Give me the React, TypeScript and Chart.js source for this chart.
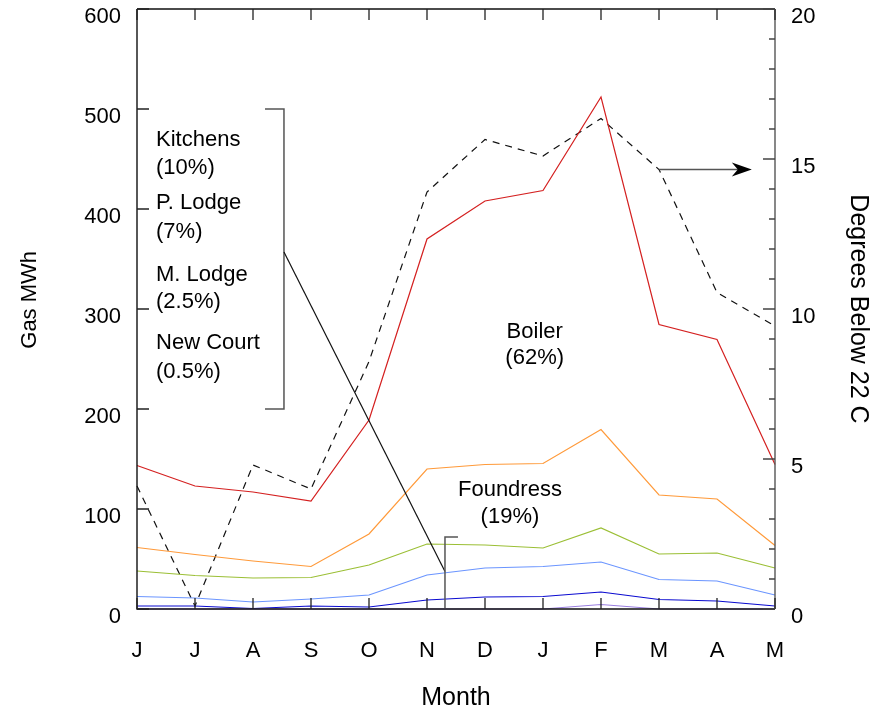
import React, { useEffect, useRef } from 'react';
import { Chart, registerables } from 'chart.js';

Chart.register(...registerables);

// ---- data ----
const months = ['J', 'J', 'A', 'S', 'O', 'N', 'D', 'J', 'F', 'M', 'A', 'M'];
const boilerTop = [143.5, 123, 117, 108, 189, 370, 408, 418.5, 512, 284.5, 269.5, 144.5];
const foundressTop = [61.5, 54.5, 48, 42.5, 75, 140, 144.5, 145.5, 179.5, 114, 110, 63.5];
const kitchensTop = [38, 33.5, 31, 31.5, 44, 65, 64, 61, 81, 55, 56, 41];
const pLodgeTop = [12.5, 11, 7, 10, 14, 34, 41, 42.5, 47, 29.5, 28, 14];
const mLodgeTop = [3, 3, 0.5, 3, 2, 9, 12, 12.5, 17, 9.5, 8, 3];
const newCourtTop = [0, 0, 0, 0, 0, 0, 0, 0, 4.5, 0, 0, 0];
const degreesBelow22 = [4.1, 0.1, 4.8, 4.0, 8.25, 13.9, 15.65, 15.1, 16.35, 14.65, 10.55, 9.43];

const leftTickValues = [0, 100, 200, 300, 400, 500, 600];
const rightTickValues = [0, 5, 10, 15, 20];

const FONT = '"Liberation Sans", Arial, Helvetica, sans-serif';

// annotation texts (x in month-index units, y in MWh)
const sideLabels = [
  { text: 'Kitchens', y: 469 },
  { text: '(10%)', y: 441 },
  { text: 'P. Lodge', y: 406 },
  { text: '(7%)', y: 377 },
  { text: 'M. Lodge', y: 334 },
  { text: '(2.5%)', y: 307 },
  { text: 'New Court', y: 266 },
  { text: '(0.5%)', y: 237 },
];
const centerLabels = [
  { text: 'Boiler', x: 6.857, y: 277.5 },
  { text: '(62%)', x: 6.857, y: 250.7 },
  { text: 'Foundress', x: 6.43, y: 119 },
  { text: '(19%)', x: 6.43, y: 92.3 },
];

const decor = {
  id: 'decor',
  afterDatasetsDraw(chart: any) {
    const { ctx, chartArea: a, scales } = chart;
    const xs = scales.x, ys = scales.y, yr = scales.y2;
    const px = (i: number) => xs.getPixelForValue(i);
    const py = (v: number) => ys.getPixelForValue(v);
    const pr = (v: number) => yr.getPixelForValue(v);
    ctx.save();
    // frame
    ctx.lineCap = 'butt';
    ctx.strokeStyle = '#111';
    ctx.lineWidth = 1.4;
    ctx.beginPath();
    ctx.moveTo(a.left, a.top);
    ctx.lineTo(a.right, a.top);
    ctx.moveTo(a.left, a.top);
    ctx.lineTo(a.left, a.bottom);
    ctx.lineTo(a.right, a.bottom);
    ctx.stroke();
    ctx.strokeStyle = '#555';
    ctx.beginPath();
    ctx.moveTo(a.right, a.top);
    ctx.lineTo(a.right, a.bottom);
    ctx.stroke();

    // month ticks top & bottom
    ctx.strokeStyle = '#222';
    ctx.lineWidth = 1.3;
    ctx.beginPath();
    for (let i = 0; i < months.length; i++) {
      const x = px(i);
      ctx.moveTo(x, a.bottom);
      ctx.lineTo(x, a.bottom - 11);
      ctx.moveTo(x, a.top);
      ctx.lineTo(x, a.top + 11);
    }
    // left ticks
    for (const v of leftTickValues) {
      ctx.moveTo(a.left, py(v));
      ctx.lineTo(a.left + 12, py(v));
    }
    ctx.stroke();
    // right ticks
    ctx.strokeStyle = '#444';
    ctx.beginPath();
    for (let v = 0; v <= 20; v++) {
      const len = v % 5 === 0 ? 12 : 6;
      ctx.moveTo(a.right, pr(v));
      ctx.lineTo(a.right - len, pr(v));
    }
    ctx.stroke();

    // bracket
    ctx.strokeStyle = '#555';
    ctx.lineWidth = 1.5;
    ctx.beginPath();
    ctx.moveTo(px(2.207), py(500));
    ctx.lineTo(px(2.534), py(500));
    ctx.lineTo(px(2.534), py(200));
    ctx.lineTo(px(2.207), py(200));
    ctx.stroke();

    // pointer line from bracket to foundress area
    ctx.strokeStyle = '#111';
    ctx.lineWidth = 1.2;
    ctx.beginPath();
    ctx.moveTo(px(2.534), py(357));
    ctx.lineTo(px(5.31), py(37.5));
    ctx.stroke();

    // small gamma mark
    ctx.strokeStyle = '#555';
    ctx.lineWidth = 1.5;
    ctx.beginPath();
    ctx.moveTo(px(5.31), py(1));
    ctx.lineTo(px(5.31), py(72));
    ctx.lineTo(px(5.534), py(72));
    ctx.stroke();

    // arrow to right axis
    const ay = pr(degreesBelow22[9]);
    const ax0 = px(9);
    const ax1 = px(10.6);
    ctx.strokeStyle = '#555';
    ctx.lineWidth = 1.5;
    ctx.beginPath();
    ctx.moveTo(ax0, ay);
    ctx.lineTo(ax1 - 8, ay);
    ctx.stroke();
    ctx.fillStyle = '#000';
    ctx.beginPath();
    ctx.moveTo(ax1, ay);
    ctx.lineTo(ax1 - 20, ay - 7);
    ctx.lineTo(ax1 - 14, ay);
    ctx.lineTo(ax1 - 20, ay + 7);
    ctx.closePath();
    ctx.fill();

    // texts
    ctx.fillStyle = '#000';
    ctx.font = `22px ${FONT}`;
    ctx.textBaseline = 'middle';
    ctx.textAlign = 'left';
    for (const l of sideLabels) ctx.fillText(l.text, px(0.328), py(l.y));
    ctx.textAlign = 'center';
    for (const l of centerLabels) ctx.fillText(l.text, px(l.x), py(l.y));
    ctx.restore();
  },
};

export default function App() {
  const ref = useRef<HTMLCanvasElement | null>(null);
  useEffect(() => {
    document.body.style.margin = '0';
    const canvas = ref.current;
    if (!canvas) return;
    const line = (data: number[], color: string, axis = 'y', dash: number[] = []) => ({
      data,
      borderColor: color,
      backgroundColor: color,
      borderWidth: 1.2,
      borderDash: dash,
      pointRadius: 0,
      tension: 0,
      fill: false,
      yAxisID: axis,
      clip: 3,
    });
    const tickFont = { family: FONT, size: 22, lineHeight: '16px' };
    const titleFont = { family: FONT, size: 25, lineHeight: 1.2 };
    const chart = new Chart(canvas, {
      type: 'line',
      data: {
        labels: months,
        datasets: [
          line(newCourtTop, '#9a7fe0'),
          line(mLodgeTop, '#0a0ad0'),
          line(pLodgeTop, '#6b95ff'),
          line(kitchensTop, '#9bbf35'),
          line(foundressTop, '#ff9a3a'),
          line(boilerTop, '#d42020'),
          { ...line(degreesBelow22, '#111', 'y2', [7, 6]), borderWidth: 1.2 },
        ] as any,
      },
      options: {
        animation: false,
        responsive: false,
        maintainAspectRatio: false,
        layout: { padding: { top: 9, left: 0, right: 0, bottom: 0 } },
        plugins: { legend: { display: false }, tooltip: { enabled: false } },
        scales: {
          x: {
            type: 'category',
            offset: false,
            grid: { display: false, drawTicks: false },
            border: { display: false },
            ticks: {
              font: { family: FONT, size: 22, lineHeight: 1.2 },
              color: '#000',
              padding: 29,
              autoSkip: false,
              maxRotation: 0,
            },
            title: {
              display: true,
              text: 'Month',
              color: '#000',
              font: titleFont,
              padding: { top: 0, bottom: 2 },
            },
            afterFit: (s: any) => {
              s.height = 106;
              s.paddingLeft = 0;
              s.paddingRight = 0;
            },
          },
          y: {
            position: 'left',
            min: 0,
            max: 600,
            grid: { display: false, drawTicks: false },
            border: { display: false },
            afterBuildTicks: (s: any) => {
              s.ticks = leftTickValues.map((v) => ({ value: v }));
            },
            ticks: {
              font: tickFont,
              color: '#000',
              padding: 16,
              callback: (v: any) => ['', String(v)],
            },
            title: {
              display: true,
              text: '\u00a0\u00a0\u00a0Gas MWh',
              color: '#000',
              font: { family: FONT, size: 22, lineHeight: 1.2 },
              padding: { top: 17, bottom: 0 },
            },
            afterFit: (s: any) => {
              s.width = 137;
              s.paddingTop = 0;
              s.paddingBottom = 0;
            },
          },
          y2: {
            position: 'right',
            min: 0,
            max: 20,
            grid: { display: false, drawTicks: false },
            border: { display: false },
            afterBuildTicks: (s: any) => {
              s.ticks = rightTickValues.map((v) => ({ value: v }));
            },
            ticks: {
              font: tickFont,
              color: '#000',
              padding: 16,
              callback: (v: any) => ['', String(v)],
            },
            title: {
              display: true,
              text: 'Degrees Below 22 C',
              color: '#000',
              font: titleFont,
              padding: { top: 5, bottom: 0 },
            },
            afterFit: (s: any) => {
              s.width = 103;
              s.paddingTop = 0;
              s.paddingBottom = 0;
            },
          },
        },
      } as any,
      plugins: [decor],
    });
    return () => chart.destroy();
  }, []);
  return (
    <canvas
      ref={ref}
      width={878}
      height={715}
      style={{ display: 'block', width: 878, height: 715 }}
    />
  );
}
